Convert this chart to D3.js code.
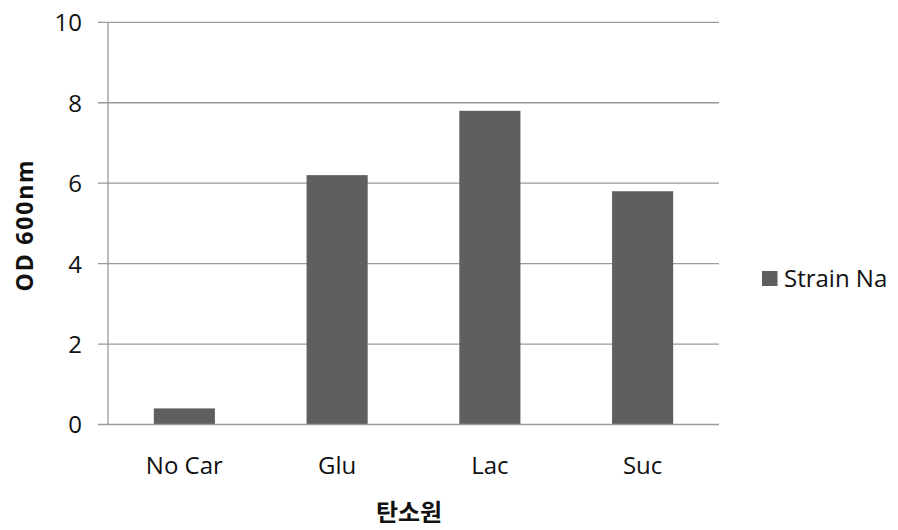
<!DOCTYPE html>
<html>
<head>
<meta charset="utf-8">
<script src="https://cdn.jsdelivr.net/npm/d3@7"></script>
<style>
  body { margin: 0; background: #fff; }
  svg { display: block; }
</style>
</head>
<body>
<svg id="chart" width="898" height="530"></svg>
<script>
// Carbon source growth data
const categories = ["No Car", "Glu", "Lac", "Suc"];
const seriesName = "Strain Na";
const values = [0.4, 6.2, 7.8, 5.8];
const yTicks = [0, 2, 4, 6, 8, 10];

const font = "'Open Sans', 'Noto Sans CJK KR', sans-serif";
const krFont = "'Noto Sans CJK KR', sans-serif";
const svg = d3.select("#chart");
const plot = { left: 108, right: 719, top: 22.3, bottom: 424.5 };

const x = d3.scaleBand().domain(categories).range([plot.left, plot.right]).padding(0);
const y = d3.scaleLinear().domain([0, 10]).range([plot.bottom, plot.top]);

// horizontal gridlines with short tick stubs left of the axis
svg.append("g").selectAll("line").data(yTicks.filter(d => d > 0)).join("line")
  .attr("x1", plot.left - 10).attr("x2", plot.right)
  .attr("y1", d => y(d)).attr("y2", d => y(d))
  .attr("stroke", "#9a9a9a").attr("stroke-width", 1.3);

// bars
const barW = x.bandwidth() * 0.4;
svg.append("g").selectAll("rect").data(values).join("rect")
  .attr("x", (d, i) => x(categories[i]) + x.bandwidth() / 2 - barW / 2)
  .attr("width", barW)
  .attr("y", d => y(d))
  .attr("height", d => y(0) - y(d))
  .attr("fill", "#5f5f5f");

// y axis line
svg.append("line")
  .attr("x1", plot.left).attr("x2", plot.left)
  .attr("y1", plot.top).attr("y2", plot.bottom)
  .attr("stroke", "#9a9a9a").attr("stroke-width", 1.3);

// x axis baseline
svg.append("line")
  .attr("x1", plot.left - 10).attr("x2", plot.right)
  .attr("y1", plot.bottom).attr("y2", plot.bottom)
  .attr("stroke", "#9a9a9a").attr("stroke-width", 1.3);

// y tick labels
svg.append("g").selectAll("text").data(yTicks).join("text")
  .attr("x", 82).attr("y", d => y(d))
  .attr("dy", "0.37em")
  .attr("text-anchor", "end")
  .attr("font-family", font).attr("font-size", 24)
  .attr("fill", "#111")
  .text(d => d);

// category labels
svg.append("g").selectAll("text").data(categories).join("text")
  .attr("x", d => x(d) + x.bandwidth() / 2)
  .attr("y", 473.5)
  .attr("text-anchor", "middle")
  .attr("font-family", font).attr("font-size", 24)
  .attr("fill", "#111")
  .text(d => d);

// axis titles
svg.append("text")
  .attr("transform", "translate(33,225) rotate(-90)")
  .attr("text-anchor", "middle")
  .attr("font-family", font).attr("font-size", 23).attr("font-weight", "bold")
  .attr("letter-spacing", 1.8)
  .attr("fill", "#111")
  .text("OD 600nm");

svg.append("text")
  .attr("x", 409).attr("y", 521)
  .attr("text-anchor", "middle")
  .attr("font-family", krFont).attr("font-size", 24).attr("font-weight", "bold")
  .attr("fill", "#111")
  .text("탄소원");

// legend
const lg = svg.append("g").attr("transform", "translate(762,271)");
lg.append("rect").attr("width", 15.5).attr("height", 15).attr("fill", "#5f5f5f");
lg.append("text")
  .attr("x", 22).attr("y", 16)
  .attr("font-family", font).attr("font-size", 24)
  .attr("fill", "#111")
  .text(seriesName);
</script>
</body>
</html>
